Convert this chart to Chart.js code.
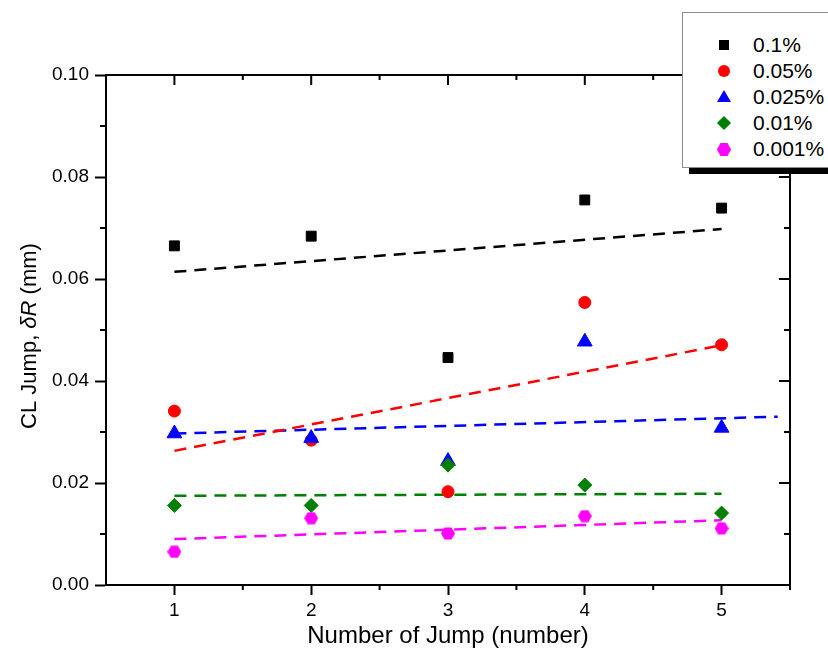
<!DOCTYPE html>
<html lang="en">
<head>
  <meta charset="UTF-8">
  <title>CL Jump vs Number of Jump</title>
  <script src="https://cdn.jsdelivr.net/npm/chart.js"></script>
  <style>
    body { margin:0; background:#fff; font-family:'Liberation Sans', Arial, sans-serif; }
    #wrap { position:relative; width:828px; height:662px; overflow:hidden; }
    #legend { position:absolute; left:682px; top:12px; width:170px; height:154px; border:1px solid #8c8c8c; background:#fff; }
    #legendShadow { position:absolute; left:689px; top:167px; width:160px; height:7px; background:#000; }
    .row { position:absolute; left:0; width:170px; height:26px; }
    .row span { position:absolute; left:70px; top:0; line-height:26px; font-size:21px; color:#000; white-space:nowrap; }
    .mk { position:absolute; }
  </style>
</head>
<body>
<div id="wrap">
  <canvas id="chart" width="828" height="662"></canvas>
  <div id="legendShadow"></div>
  <div id="legend"></div>
</div>

<script>
  // data
  const jumps = [1, 2, 3, 4, 5];
  const labels = ['0.1%', '0.05%', '0.025%', '0.01%', '0.001%'];
  const conc01   = [0.0665, 0.0684, 0.0446, 0.0755, 0.0739];
  const conc005  = [0.0341, 0.0284, 0.0183, 0.0554, 0.0471];
  const conc0025 = [0.0297, 0.0288, 0.0243, 0.0477, 0.0308];
  const conc001  = [0.0156, 0.0156, 0.0235, 0.0196, 0.0141];
  const conc0001 = [0.0065, 0.0131, 0.0101, 0.0135, 0.0111];

  // dashed fit lines (start / end)
  const fitX      = [1, 5];
  const fitXBlue  = [1, 5.41];
  const fit01     = [0.0614, 0.0698];
  const fit005    = [0.0263, 0.0470];
  const fit0025   = [0.0297, 0.0330];
  const fit001    = [0.0175, 0.0179];
  const fit0001   = [0.0090, 0.0127];

  const xTicks = [1, 2, 3, 4, 5];
  const yTicks = [0, 0.02, 0.04, 0.06, 0.08, 0.10];

  const colors = ['#000000', '#ff0000', '#0000ff', '#008000', '#ff00ff'];
  const FONT = "'Liberation Sans', Arial, sans-serif";

  function hexagon(color) {
    const c = document.createElement('canvas');
    c.width = 14; c.height = 13;
    const g = c.getContext('2d');
    g.fillStyle = color;
    g.beginPath();
    g.moveTo(0, 6.5); g.lineTo(3.5, 0.5); g.lineTo(10.5, 0.5);
    g.lineTo(14, 6.5); g.lineTo(10.5, 12.5); g.lineTo(3.5, 12.5);
    g.closePath(); g.fill();
    return c;
  }

  const pts = (xs, ys) => xs.map((x, i) => ({ x: x, y: ys[i] }));

  function scatterSet(i, ys, style, r, order) {
    return {
      label: labels[i], data: pts(jumps, ys), pointStyle: style, pointRadius: r,
      backgroundColor: colors[i], borderColor: colors[i], borderWidth: 1, order: order
    };
  }
  function fitSet(i, xs, ys) {
    return {
      label: labels[i] + ' fit', data: pts(xs, ys), showLine: true, pointRadius: 0,
      borderColor: colors[i], borderWidth: 2.5, borderDash: [12, 8], order: 10
    };
  }

  // minor ticks and top/right frame, plus titles
  const framePlugin = {
    id: 'frame',
    afterDraw(chart) {
      const { ctx, chartArea: a, scales: { x, y } } = chart;
      ctx.save();
      ctx.strokeStyle = '#000';
      ctx.lineWidth = 2;
      ctx.beginPath();
      ctx.moveTo(a.left - 1, a.top); ctx.lineTo(a.right, a.top);
      ctx.moveTo(a.right, a.top); ctx.lineTo(a.right, a.bottom + 5);
      const xMinor = xTicks.slice(1).map((v, i) => (v + xTicks[i]) / 2);
      const yMinor = yTicks.slice(1).map((v, i) => (v + yTicks[i]) / 2);
      xTicks.forEach(v => { const px = x.getPixelForValue(v); ctx.moveTo(px, a.top); ctx.lineTo(px, a.top + 10); });
      xMinor.forEach(v => {
        const px = x.getPixelForValue(v);
        ctx.moveTo(px, a.top); ctx.lineTo(px, a.top + 5);
        ctx.moveTo(px, a.bottom); ctx.lineTo(px, a.bottom + 5);
      });
      yTicks.forEach(v => { const py = y.getPixelForValue(v); ctx.moveTo(a.right, py); ctx.lineTo(a.right - 11, py); });
      yMinor.forEach(v => {
        const py = y.getPixelForValue(v);
        ctx.moveTo(a.right, py); ctx.lineTo(a.right - 6, py);
        ctx.moveTo(a.left, py); ctx.lineTo(a.left - 6, py);
      });
      ctx.stroke();

      // x title
      ctx.fillStyle = '#000';
      ctx.font = '24px ' + FONT;
      ctx.textAlign = 'center';
      ctx.textBaseline = 'alphabetic';
      ctx.fillText('Number of Jump (number)', (a.left + a.right) / 2, 643);

      // y title with italic δR
      const parts = [['CL Jump, ', 'normal'], ['δR', 'italic'], [' (mm)', 'normal']];
      let total = 0;
      parts.forEach(p => { ctx.font = p[1] + ' 22px ' + FONT; total += ctx.measureText(p[0]).width; });
      ctx.translate(36, 336);
      ctx.rotate(-Math.PI / 2);
      ctx.textAlign = 'left';
      let cx = -total / 2;
      parts.forEach(p => {
        ctx.font = p[1] + ' 22px ' + FONT;
        ctx.fillText(p[0], cx, 0);
        cx += ctx.measureText(p[0]).width;
      });
      ctx.restore();
    }
  };

  new Chart(document.getElementById('chart'), {
    type: 'scatter',
    data: {
      datasets: [
        scatterSet(0, conc01, 'rect', 7, 5),
        scatterSet(1, conc005, 'circle', 6, 4),
        scatterSet(2, conc0025, 'triangle', 8.5, 3),
        scatterSet(3, conc001, 'rectRot', 7, 2),
        scatterSet(4, conc0001, hexagon(colors[4]), 7, 1),
        fitSet(0, fitX, fit01),
        fitSet(1, fitX, fit005),
        fitSet(2, fitXBlue, fit0025),
        fitSet(3, fitX, fit001),
        fitSet(4, fitX, fit0001)
      ]
    },
    options: {
      responsive: false,
      animation: false,
      devicePixelRatio: 1,
      layout: { padding: { top: 75, right: 38, left: 0, bottom: 0 } },
      plugins: { legend: { display: false }, tooltip: { enabled: false } },
      scales: {
        x: {
          type: 'linear', min: 0.5, max: 5.5,
          afterBuildTicks: s => { s.ticks = xTicks.map(v => ({ value: v })); },
          afterFit: s => { s.height = 77; },
          border: { display: true, color: '#000', width: 2 },
          grid: { display: true, drawOnChartArea: false, drawTicks: true, tickLength: 10, tickColor: '#000', tickWidth: 2 },
          ticks: { color: '#000', padding: 4, font: { family: FONT, size: 19 }, callback: v => String(v) }
        },
        y: {
          type: 'linear', min: 0, max: 0.1,
          afterBuildTicks: s => { s.ticks = yTicks.map(v => ({ value: v })); },
          afterFit: s => { s.width = 106; },
          border: { display: true, color: '#000', width: 2 },
          grid: { display: true, drawOnChartArea: false, drawTicks: true, tickLength: 11, tickColor: '#000', tickWidth: 2 },
          ticks: { color: '#000', padding: 6, font: { family: FONT, size: 19 }, callback: v => v.toFixed(2) }
        }
      }
    },
    plugins: [framePlugin]
  });

  // legend (top right box)
  const legend = document.getElementById('legend');
  const markers = [
    'width:10px;height:10px;background:#000;left:36px;top:8px;',
    'width:12px;height:12px;border-radius:50%;background:#ff0000;left:35px;top:7px;',
    'width:0;height:0;border-left:7px solid transparent;border-right:7px solid transparent;border-bottom:12px solid #0000ff;left:34px;top:6px;',
    'width:10px;height:10px;background:#008000;transform:rotate(45deg);left:36px;top:8px;',
    'width:14px;height:13px;background:#ff00ff;clip-path:polygon(0 50%,25% 0,75% 0,100% 50%,75% 100%,25% 100%);left:34px;top:7px;'
  ];
  const rowTops = [32, 58, 84, 110, 136];
  labels.forEach((lab, i) => {
    const row = document.createElement('div');
    row.className = 'row';
    row.style.top = (rowTops[i] - 13) + 'px';
    row.innerHTML = '<div class="mk" style="' + markers[i] + '"></div><span>' + lab + '</span>';
    legend.appendChild(row);
  });
</script>
</body>
</html>
